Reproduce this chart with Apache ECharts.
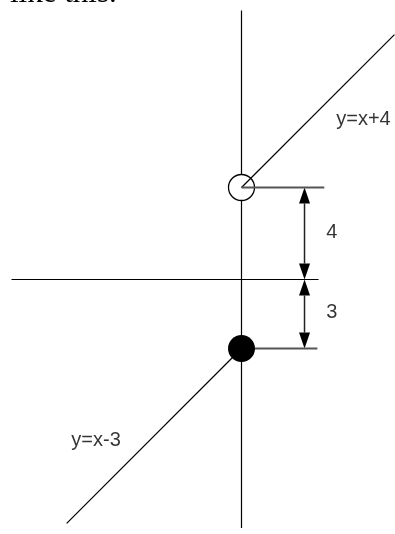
<!DOCTYPE html>
<html><head><meta charset="utf-8">
<script src="https://cdn.jsdelivr.net/npm/echarts@6/dist/echarts.min.js"></script>
<style>html,body{margin:0;padding:0;background:#fff;overflow:hidden}#c{width:395px;height:534px}</style>
</head><body><div id="c"></div>
<script>
// ---- data (diagram units) ----
const axisV = [[0, 11.7], [0, -10.8]];
const axisH = [[-10, 0], [3.35, 0]];
const lineUpper = [[0, 4], [6.65, 10.65]];   // y = x + 4
const lineLower = [[0, -3], [-7.6, -10.6]];  // y = x - 3
const openPoint = [[0, 4]];
const closedPoint = [[0, -3]];
const guideUpper = [[0, 4], [3.6, 4]];
const guideLower = [[0, -3], [3.3, -3]];
const arrows = [[2.74, 4, 0], [2.74, 0, -3]]; // x, yFrom, yTo
const eqLabels = [['y=x+4', 4.12, 6.95], ['y=x-3', -7.4, -6.98]];
const gapLabels = [['4', 3.93, 2.05], ['3', 3.93, -1.45]];

// ---- layout ----
const W = 395, H = 534, K = 23, OX = 241.5, OY = 279.5;
const chart = echarts.init(document.getElementById('c'), null, {renderer: 'canvas'});
const lineS = (data, z, color, width) => ({
  type: 'line', data, symbol: 'none', z, silent: true,
  lineStyle: {color, width}, animation: false
});
const font = 'Liberation Sans, Arial, sans-serif';
chart.setOption({
  animation: false,
  grid: {left: 0, right: 0, top: 0, bottom: 0},
  xAxis: {type: 'value', min: -OX / K, max: (W - OX) / K, show: false},
  yAxis: {type: 'value', min: -(H - OY) / K, max: OY / K, show: false},
  graphic: [{
    type: 'text', left: 10, top: -22,
    style: {text: 'like this.', font: '31px "Liberation Serif", "Times New Roman", serif', fill: '#000'}
  }],
  series: [
    lineS(axisV, 1, '#000', 1.2),
    lineS(axisH, 1, '#000', 1.2),
    {type: 'scatter', data: openPoint, symbolSize: 26, z: 3, animation: false,
     itemStyle: {color: '#fff', borderColor: '#000', borderWidth: 1.3, opacity: 1}},
    lineS(lineUpper, 4, '#000', 1.2),
    lineS(lineLower, 4, '#000', 1.2),
    lineS(guideUpper, 4, '#555', 2),
    lineS(guideLower, 4, '#555', 2),
    {type: 'scatter', data: closedPoint, symbolSize: 27, z: 5, animation: false,
     itemStyle: {color: '#000', opacity: 1}},
    {type: 'custom', data: arrows, z: 4, animation: false, encode: {x: 0, y: 1},
     renderItem(params, api) {
       const x = api.value(0), p0 = api.coord([x, api.value(1)]), p1 = api.coord([x, api.value(2)]);
       const hl = 16, hw = 5.5, d = p1[1] > p0[1] ? 1 : -1;
       return {type: 'group', children: [
         {type: 'line', shape: {x1: p0[0], y1: p0[1] + d * hl, x2: p1[0], y2: p1[1] - d * hl},
          style: {stroke: '#222', lineWidth: 1.5}},
         {type: 'polygon', shape: {points: [[p0[0], p0[1]], [p0[0] - hw, p0[1] + d * hl], [p0[0] + hw, p0[1] + d * hl]]},
          style: {fill: '#000'}},
         {type: 'polygon', shape: {points: [[p1[0], p1[1]], [p1[0] - hw, p1[1] - d * hl], [p1[0] + hw, p1[1] - d * hl]]},
          style: {fill: '#000'}}
       ]};
     }},
    {type: 'scatter', symbolSize: 0, z: 6, animation: false,
     data: eqLabels.map(l => ({name: l[0], value: [l[1], l[2]]})),
     label: {show: true, position: 'inside', align: 'left', verticalAlign: 'middle',
       formatter: '{b}', color: '#000', fontSize: 20, fontFamily: font}},
    {type: 'scatter', symbolSize: 0, z: 6, animation: false,
     data: gapLabels.map(l => ({name: l[0], value: [l[1], l[2]]})),
     label: {show: true, position: 'inside', align: 'center', verticalAlign: 'middle',
       formatter: '{b}', color: '#000', fontSize: 20, fontFamily: font}}
  ]
});
</script></body></html>
